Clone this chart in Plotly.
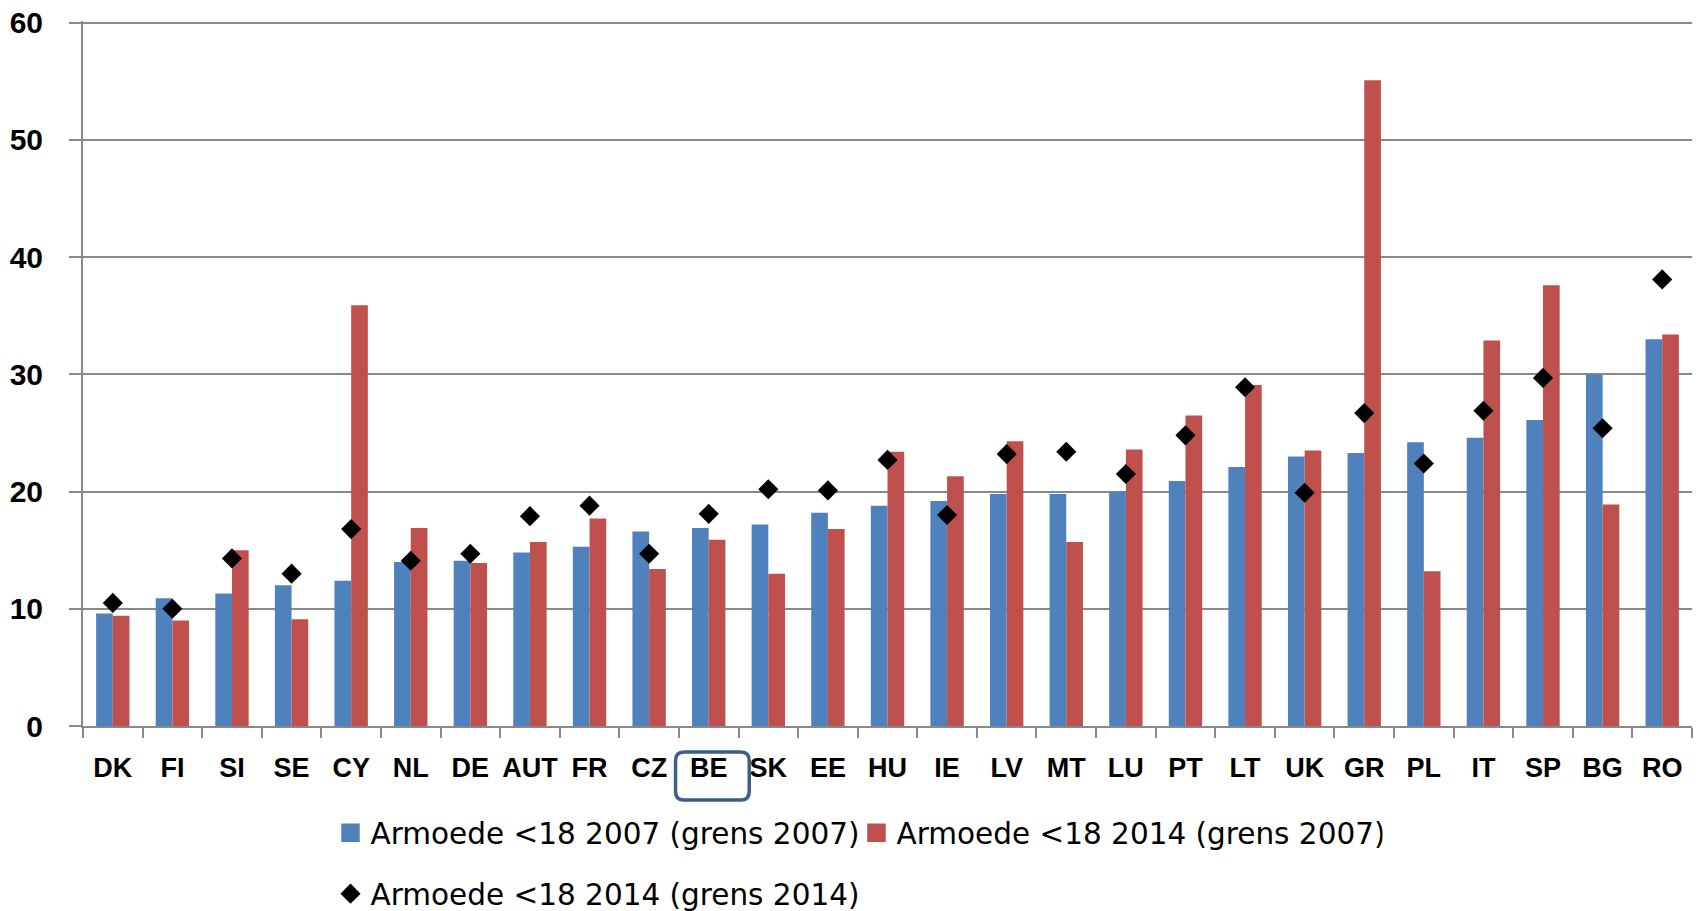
import plotly.graph_objects as go

categories = ["DK", "FI", "SI", "SE", "CY", "NL", "DE", "AUT", "FR", "CZ", "BE", "SK", "EE",
              "HU", "IE", "LV", "MT", "LU", "PT", "LT", "UK", "GR", "PL", "IT", "SP", "BG", "RO"]
armoede_2007_grens_2007 = [9.6, 10.9, 11.3, 12.0, 12.4, 14.0, 14.1, 14.8, 15.3, 16.6, 16.9, 17.2, 18.2,
                           18.8, 19.2, 19.8, 19.8, 20.0, 20.9, 22.1, 23.0, 23.3, 24.2, 24.6, 26.1, 30.0, 33.0]
armoede_2014_grens_2007 = [9.4, 9.0, 15.0, 9.1, 35.9, 16.9, 13.9, 15.7, 17.7, 13.4, 15.9, 13.0, 16.8,
                           23.4, 21.3, 24.3, 15.7, 23.6, 26.5, 29.1, 23.5, 55.1, 13.2, 32.9, 37.6, 18.9, 33.4]
armoede_2014_grens_2014 = [10.5, 10.0, 14.3, 13.0, 16.8, 14.1, 14.7, 17.9, 18.8, 14.7, 18.1, 20.2, 20.1,
                           22.7, 18.0, 23.2, 23.4, 21.5, 24.8, 28.9, 19.9, 26.7, 22.4, 26.9, 29.7, 25.4, 38.1]
series_names = ["Armoede <18 2007 (grens 2007)", "Armoede <18 2014 (grens 2007)", "Armoede <18 2014 (grens 2014)"]
y_ticks = [0, 10, 20, 30, 40, 50, 60]
highlight = "BE"

BLUE = "#4F81BD"
RED = "#C0504D"
GRID = "#898989"
FONT = "DejaVu Sans"

W, H = 1702, 911

fig = go.Figure()
fig.add_trace(go.Bar(x=categories, y=armoede_2007_grens_2007, name=series_names[0],
                     marker=dict(color=BLUE, line=dict(width=0)), showlegend=False))
fig.add_trace(go.Bar(x=categories, y=armoede_2014_grens_2007, name=series_names[1],
                     marker=dict(color=RED, line=dict(width=0)), showlegend=False))
# legend entries with larger square symbols
fig.add_trace(go.Scatter(x=[categories[0]], y=[None], mode="markers", name=series_names[0],
                         marker=dict(symbol="square", size=16, color=BLUE, line=dict(width=2.5, color=BLUE)),
                         legend="legend", hoverinfo="skip"))
fig.add_trace(go.Scatter(x=[categories[0]], y=[None], mode="markers", name=series_names[1],
                         marker=dict(symbol="square", size=16, color=RED, line=dict(width=2.5, color=RED)),
                         legend="legend", hoverinfo="skip"))
fig.add_trace(go.Scatter(x=categories, y=armoede_2014_grens_2014, mode="markers", name=series_names[2],
                         marker=dict(symbol="diamond", size=15.5, color="black"),
                         legend="legend2"))

# rounded box around highlighted category label
i = categories.index(highlight)
x0, x1 = i - 0.557, i + 0.68
y0, y1 = -0.105, -0.037
rx, ry = 0.14, 0.0125
path = (f"M {x0+rx},{y1} L {x1-rx},{y1} Q {x1},{y1} {x1},{y1-ry} "
        f"L {x1},{y0+ry} Q {x1},{y0} {x1-rx},{y0} L {x0+rx},{y0} Q {x0},{y0} {x0},{y0+ry} "
        f"L {x0},{y1-ry} Q {x0},{y1} {x0+rx},{y1} Z")
fig.add_shape(type="path", path=path, xref="x", yref="paper",
              line=dict(color="#3A5F8B", width=3.5), fillcolor="rgba(0,0,0,0)")

fig.update_layout(
    width=W, height=H,
    margin=dict(l=83, r=10, t=21, b=185),
    paper_bgcolor="white", plot_bgcolor="white",
    barmode="group", bargap=0.44, bargroupgap=0,
    font=dict(family=FONT, color="black"),
    legend=dict(orientation="h", x=330.5 / W, xref="container", xanchor="left",
                y=1 - 833 / H, yref="container", yanchor="middle",
                font=dict(family=FONT, size=29.5, color="black"), entrywidth=481,
                bgcolor="rgba(0,0,0,0)", borderwidth=0, itemsizing="trace"),
    legend2=dict(orientation="h", x=330.5 / W, xref="container", xanchor="left",
                 y=1 - 894 / H, yref="container", yanchor="middle",
                 font=dict(family=FONT, size=29.5, color="black"),
                 bgcolor="rgba(0,0,0,0)", borderwidth=0, itemsizing="trace"),
    showlegend=True,
)
fig.update_xaxes(type="category", categoryorder="array", categoryarray=categories,
                 range=[-0.5, len(categories) - 0.5],
                 showline=True, linecolor=GRID, linewidth=2,
                 ticks="outside", tickson="boundaries", ticklen=10, tickcolor=GRID, tickwidth=2,
                 showgrid=False, tickangle=0,
                 tickfont=dict(family="Liberation Sans", size=27, color="black", weight="bold"),
                 ticklabelstandoff=17, automargin=False)
fig.update_yaxes(range=[0, 60.15], tickmode="array", tickvals=y_ticks,
                 showline=True, linecolor=GRID, linewidth=2,
                 ticks="outside", ticklen=12, tickcolor=GRID, tickwidth=2,
                 showgrid=True, gridcolor=GRID, gridwidth=2, zeroline=False,
                 tickfont=dict(family="Liberation Sans", size=30, color="black", weight="bold"),
                 ticklabelstandoff=20, ticklabeloverflow="allow", automargin=False)

fig.write_html("out.html", config={"displayModeBar": False},
               post_script="document.body.style.margin='0';")
